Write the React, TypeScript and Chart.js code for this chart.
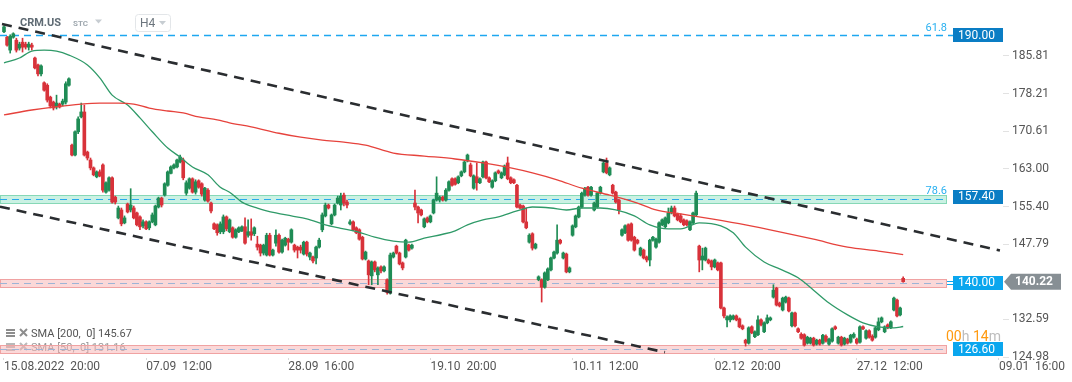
import React, { useEffect, useRef } from 'react';
import { Chart, registerables } from 'chart.js';

Chart.register(...registerables);

const FONT = 'Roboto, "Noto Sans", sans-serif';

// [open, high, low, close] per H4 candle
const ohlc: number[][] = [
  [190.7, 191.9, 190.5, 191.7], [189.6, 189.8, 187.8, 188.0], [187.0, 190.1, 186.4, 189.8], [189.6, 190.5, 189.4, 190.3],
  [189.0, 189.4, 186.6, 187.0], [187.4, 188.6, 187.0, 188.2], [188.6, 189.4, 186.6, 187.6], [188.2, 188.6, 187.2, 187.6],
  [187.6, 188.6, 187.0, 188.2], [188.0, 188.4, 187.0, 187.6], [185.4, 185.6, 183.2, 183.4], [184.0, 184.2, 181.8, 182.2],
  [182.2, 184.0, 181.8, 183.8], [180.4, 180.6, 178.7, 178.9], [179.9, 180.2, 176.5, 176.9], [177.5, 177.7, 175.3, 175.7],
  [176.5, 176.7, 174.9, 175.3], [175.5, 177.9, 175.1, 176.3], [176.1, 176.3, 175.3, 175.5], [176.1, 177.1, 175.7, 176.7],
  [176.5, 180.6, 176.1, 180.2], [179.9, 181.4, 179.7, 181.2], [167.8, 168.0, 165.6, 165.8], [165.8, 170.7, 165.6, 170.5],
  [170.5, 173.5, 170.1, 173.1], [173.5, 176.3, 173.3, 174.5], [174.5, 175.9, 165.6, 165.8], [166.4, 166.6, 164.8, 165.2],
  [164.8, 165.2, 162.8, 163.2], [163.2, 163.4, 161.6, 161.8], [161.4, 162.6, 161.2, 162.4], [162.4, 162.8, 161.4, 161.6],
  [163.8, 164.0, 158.3, 158.7], [158.3, 160.4, 158.1, 160.2], [158.7, 161.4, 158.5, 161.2], [161.2, 161.4, 156.1, 156.3],
  [157.3, 157.5, 155.9, 156.3], [153.1, 155.5, 152.9, 155.1], [154.7, 155.1, 151.5, 151.9], [152.1, 153.5, 151.9, 153.1],
  [155.9, 156.1, 154.1, 154.3], [154.7, 159.0, 154.3, 155.7], [155.1, 155.5, 152.9, 153.1], [154.1, 154.3, 151.5, 151.7],
  [153.3, 153.5, 150.7, 151.3], [151.5, 152.7, 151.1, 152.3], [152.3, 152.5, 150.7, 150.9], [151.1, 152.5, 150.7, 152.3],
  [152.3, 154.1, 152.1, 153.7], [151.7, 155.7, 151.5, 155.5], [155.3, 157.3, 155.1, 157.1], [157.1, 157.3, 155.3, 155.7],
  [157.7, 160.2, 157.5, 160.0], [159.7, 162.6, 159.5, 162.4], [162.1, 163.6, 162.0, 163.4], [163.2, 164.0, 163.0, 163.8],
  [163.4, 165.0, 163.2, 164.8], [164.4, 165.8, 164.2, 165.4], [164.8, 165.2, 160.8, 161.2], [158.1, 160.6, 157.7, 160.2],
  [159.1, 161.2, 158.9, 161.0], [161.0, 161.2, 158.1, 158.3], [158.3, 160.8, 157.9, 160.4], [160.6, 160.8, 159.1, 159.3],
  [160.0, 160.2, 157.5, 157.9], [156.7, 159.3, 156.5, 159.1], [158.7, 159.0, 156.3, 156.5], [156.1, 156.3, 154.1, 154.5],
  [151.9, 152.1, 150.7, 150.9], [151.7, 151.9, 149.6, 150.1], [150.3, 152.3, 149.9, 151.9], [150.3, 153.7, 149.9, 153.3],
  [153.3, 153.5, 150.5, 150.9], [150.3, 152.9, 150.1, 152.7], [151.1, 151.3, 149.0, 149.2], [149.2, 150.9, 149.0, 150.7],
  [150.3, 151.3, 150.1, 151.1], [150.5, 151.5, 150.3, 151.3], [151.3, 153.1, 147.8, 148.0], [149.6, 152.7, 149.2, 150.3],
  [150.3, 152.9, 148.6, 149.6], [149.9, 151.3, 149.5, 151.1], [147.8, 149.4, 146.6, 147.2], [147.6, 147.8, 145.4, 146.0],
  [146.0, 147.8, 145.6, 147.6], [145.6, 150.0, 145.4, 149.6], [149.6, 150.0, 145.4, 145.6], [145.6, 146.8, 145.4, 146.6],
  [148.0, 150.7, 147.4, 149.6], [149.6, 149.9, 146.0, 146.2], [146.2, 148.8, 146.0, 148.6], [147.6, 149.2, 147.4, 149.0],
  [148.8, 149.0, 146.6, 148.2], [148.2, 150.9, 148.0, 150.7], [147.6, 147.8, 146.2, 146.6], [147.2, 147.4, 145.0, 146.6],
  [147.2, 147.6, 146.0, 146.6], [145.8, 148.4, 145.6, 148.2], [148.2, 148.4, 145.4, 145.8], [145.2, 146.2, 144.6, 146.0],
  [145.2, 145.4, 144.0, 144.4], [145.0, 147.4, 143.8, 147.2], [147.2, 149.0, 147.0, 148.6], [150.7, 154.1, 150.3, 153.7],
  [153.5, 156.1, 153.3, 155.7], [155.7, 155.9, 154.9, 155.1], [151.9, 153.9, 151.7, 153.7], [153.7, 155.9, 153.5, 155.7],
  [156.1, 157.5, 155.9, 157.1], [155.7, 158.1, 154.7, 157.5], [157.7, 158.1, 155.5, 156.1], [156.3, 156.7, 155.1, 155.7],
  [151.9, 152.7, 151.7, 152.3], [152.3, 152.5, 150.5, 150.7], [151.1, 151.3, 149.9, 150.1], [150.7, 150.9, 148.6, 148.8],
  [149.2, 149.4, 144.6, 144.8], [144.8, 146.4, 144.6, 146.2], [144.4, 144.6, 139.6, 141.6], [141.4, 144.4, 139.6, 144.2],
  [144.2, 144.4, 142.2, 142.6], [141.6, 143.2, 139.6, 143.0], [143.2, 143.4, 142.0, 142.4], [142.4, 143.4, 142.2, 143.2],
  [140.6, 140.8, 137.7, 138.1], [137.9, 146.0, 137.7, 145.6], [145.2, 146.2, 145.0, 146.0], [147.4, 147.6, 145.8, 146.0],
  [146.0, 146.2, 143.6, 143.8], [144.0, 144.2, 142.6, 143.0], [145.2, 148.8, 145.0, 148.6], [147.6, 147.8, 146.4, 146.6],
  [147.0, 147.8, 146.8, 147.6], [156.1, 158.7, 154.7, 155.3], [155.3, 155.5, 152.1, 154.1], [154.7, 154.9, 153.5, 153.7],
  [151.3, 153.1, 151.1, 152.9], [153.1, 153.3, 152.1, 152.3], [152.3, 153.7, 152.1, 153.5], [154.1, 156.9, 153.9, 156.7],
  [156.7, 161.4, 156.5, 158.1], [156.7, 157.5, 156.3, 157.3], [157.3, 157.5, 156.5, 156.7], [156.7, 159.0, 156.5, 158.7],
  [158.7, 160.6, 158.5, 160.4], [161.0, 161.2, 159.5, 159.7], [161.0, 161.2, 159.7, 159.9], [160.2, 161.6, 160.0, 161.4],
  [161.6, 162.6, 161.4, 162.4], [162.4, 164.6, 162.2, 164.4], [164.6, 166.0, 164.4, 165.8], [163.8, 164.2, 161.4, 161.6],
  [159.1, 161.8, 158.9, 161.6], [161.4, 164.2, 158.7, 160.2], [160.2, 161.2, 160.0, 161.0], [161.4, 164.6, 161.2, 164.4],
  [164.4, 164.6, 161.0, 161.2], [161.2, 161.4, 160.2, 160.4], [159.3, 160.8, 159.1, 160.6], [160.6, 162.4, 160.4, 162.2],
  [162.6, 162.8, 162.0, 162.2], [161.2, 162.4, 161.0, 162.2], [161.8, 163.8, 161.6, 163.6], [164.2, 165.4, 160.8, 161.0],
  [161.2, 161.4, 160.0, 160.2], [160.8, 161.0, 160.0, 160.2], [159.7, 159.9, 155.1, 155.3], [155.7, 155.9, 154.9, 155.1],
  [155.5, 155.7, 152.1, 152.3], [152.3, 155.1, 150.9, 151.1], [148.2, 149.9, 148.0, 149.6], [149.9, 150.1, 146.6, 147.0],
  [147.0, 148.0, 146.8, 147.8], [140.6, 141.4, 140.4, 141.2], [140.6, 140.8, 136.1, 139.1],
  [139.1, 142.2, 138.9, 142.0], [140.6, 143.0, 140.4, 142.8], [142.6, 145.2, 142.4, 145.0], [145.0, 146.4, 144.8, 146.2],
  [146.0, 151.7, 145.8, 148.6], [148.6, 148.8, 147.8, 148.0], [145.0, 146.2, 144.8, 146.0], [145.8, 146.0, 142.0, 142.2],
  [142.2, 143.2, 142.0, 143.0], [149.6, 151.7, 149.4, 151.5], [151.3, 153.7, 151.1, 153.5], [153.3, 155.5, 153.1, 155.3],
  [155.3, 158.3, 155.1, 158.1], [157.7, 159.3, 157.5, 159.1], [159.3, 159.5, 157.5, 157.7], [157.7, 159.5, 157.5, 159.3],
  [154.7, 156.3, 154.5, 156.1], [155.3, 158.3, 155.1, 158.1], [158.1, 159.5, 157.9, 159.3], [162.4, 164.4, 162.2, 164.2],
  [164.2, 165.2, 162.0, 162.2], [161.8, 163.4, 161.6, 163.2], [159.7, 159.9, 157.9, 158.1], [158.3, 158.5, 156.1, 156.3],
  [156.7, 156.9, 153.9, 154.7], [149.6, 150.9, 149.4, 150.7], [150.1, 151.7, 149.9, 151.5], [151.7, 151.9, 148.4, 148.6],
  [151.9, 152.1, 148.4, 148.6], [149.2, 149.4, 146.4, 146.6], [148.6, 148.8, 147.8, 148.0], [145.6, 147.2, 145.4, 147.0],
  [146.6, 146.8, 144.8, 145.0], [145.2, 145.4, 144.2, 144.6], [144.6, 148.8, 143.4, 148.6],
  [148.6, 149.4, 148.4, 149.2], [147.2, 149.0, 147.0, 148.8], [148.2, 152.3, 148.0, 152.1], [151.7, 152.9, 151.5, 152.7],
  [151.3, 153.3, 151.1, 153.1], [152.1, 155.1, 151.9, 154.1], [154.1, 155.5, 153.9, 155.1], [155.1, 155.5, 153.3, 153.5],
  [153.9, 154.1, 152.5, 152.7], [153.5, 153.9, 152.1, 152.3], [152.7, 152.9, 151.5, 151.7], [152.5, 152.7, 151.5, 151.7],
  [150.7, 152.5, 150.5, 152.3], [152.1, 154.3, 151.9, 154.1], [153.7, 158.5, 153.5, 158.1], [147.4, 147.6, 142.2, 144.6],
  [144.6, 147.0, 142.6, 145.4], [144.6, 147.2, 144.4, 147.0], [144.6, 144.8, 143.8, 144.0], [144.4, 144.6, 142.6, 143.2],
  [143.2, 144.8, 143.0, 144.6], [144.0, 144.2, 142.4, 142.6], [144.0, 144.2, 134.7, 134.9], [134.9, 135.1, 132.9, 133.3],
  [132.5, 133.3, 131.1, 133.1], [132.5, 133.5, 132.1, 133.3], [132.7, 133.5, 132.5, 133.3], [133.3, 133.5, 132.3, 132.5],
  [132.7, 132.9, 130.9, 131.1], [131.3, 131.5, 130.5, 130.7], [128.4, 128.6, 127.2, 127.8], [127.8, 131.1, 127.6, 130.9],
  [131.1, 131.3, 129.7, 129.9], [129.1, 130.3, 128.9, 130.1], [129.5, 133.3, 129.3, 132.5], [132.5, 132.7, 131.3, 131.5],
  [130.1, 132.1, 129.9, 131.9], [131.9, 133.5, 131.7, 132.9], [132.5, 133.1, 132.3, 132.9], [137.1, 139.6, 136.9, 138.5],
  [138.9, 139.1, 135.3, 135.5], [135.9, 136.1, 135.1, 135.3], [134.5, 137.1, 134.3, 136.9], [136.1, 137.3, 135.9, 137.1],
  [136.9, 137.1, 134.1, 134.3], [131.3, 134.1, 131.1, 133.9], [133.9, 134.1, 131.1, 131.3], [130.7, 130.9, 129.9, 130.1],
  [129.6, 129.9, 128.6, 128.8], [129.5, 129.7, 127.2, 127.4], [127.8, 129.2, 127.6, 129.0], [127.8, 129.0, 127.6, 128.8],
  [128.8, 129.0, 127.2, 127.4], [127.6, 128.6, 127.4, 128.4], [128.4, 128.6, 127.4, 127.6],
  [127.8, 129.6, 127.6, 129.4], [129.2, 129.5, 128.0, 128.2], [127.6, 128.8, 127.4, 128.6],
  [128.2, 130.9, 128.0, 130.7], [131.1, 131.3, 130.5, 130.7], [127.8, 129.2, 127.6, 129.0], [129.0, 129.2, 127.2, 127.4],
  [127.6, 129.0, 127.4, 128.8], [128.6, 128.8, 127.6, 127.8], [128.0, 129.6, 127.8, 129.4], [129.0, 129.9, 128.8, 129.6],
  [128.6, 128.8, 127.6, 127.8], [128.0, 131.3, 127.8, 131.1], [131.1, 131.3, 130.5, 130.7], [128.8, 130.5, 128.6, 130.3],
  [130.3, 130.5, 128.8, 129.0], [129.2, 129.5, 128.2, 128.4], [129.0, 131.1, 128.8, 130.9], [130.5, 132.9, 130.3, 132.1],
  [132.1, 133.1, 131.9, 132.9], [130.1, 131.3, 129.9, 131.1], [131.5, 131.7, 130.7, 130.9], [130.9, 132.3, 130.7, 132.1],
  [134.5, 137.1, 134.3, 136.9], [136.5, 136.7, 133.1, 133.3], [133.5, 135.1, 133.3, 134.9], [140.9, 141.2, 140.1, 140.22],
];

// Moving averages (candle index, value)
const sma200Idx = [0, 9, 16, 25, 31, 37, 42, 47, 53, 58, 63, 69, 73, 80, 89, 96, 103, 110, 117, 126, 136, 146, 155, 164, 171, 179, 187, 196, 205, 211, 219, 229, 240, 251, 262, 273, 283, 291];
const sma200Val = [173.9, 174.9, 175.5, 176.1, 176.3, 176.3, 176.1, 175.3, 174.7, 174.3, 173.5, 172.9, 172.3, 171.5, 170.2, 169.4, 168.8, 168.4, 167.8, 166.2, 165.6, 165.0, 164.2, 163.2, 162.2, 160.8, 159.1, 157.7, 156.1, 154.7, 153.9, 152.9, 151.7, 150.3, 148.8, 147.2, 146.4, 145.67];
const sma50Idx = [0, 5, 9, 13, 17, 21, 27, 31, 35, 40, 44, 48, 53, 57, 61, 66, 70, 73, 77, 82, 88, 93, 98, 104, 109, 115, 120, 126, 131, 136, 142, 146, 150, 155, 160, 166, 171, 177, 182, 187, 193, 198, 204, 209, 215, 219, 225, 232, 236, 240, 246, 251, 257, 262, 267, 273, 278, 283, 288, 291];
const sma50Val = [184.4, 185.4, 186.8, 187.0, 186.8, 186.0, 184.0, 181.4, 177.9, 175.9, 173.3, 170.5, 167.2, 165.4, 163.4, 161.8, 159.3, 158.3, 156.3, 155.1, 154.1, 153.5, 152.9, 151.7, 151.0, 150.2, 149.2, 148.4, 148.2, 149.0, 149.8, 150.5, 151.7, 152.7, 153.3, 154.5, 155.3, 155.1, 154.7, 155.1, 155.1, 154.7, 153.5, 151.7, 150.9, 150.9, 152.1, 151.5, 150.1, 147.2, 144.2, 142.8, 141.0, 138.5, 135.9, 133.5, 131.9, 131.1, 130.9, 131.16];

// Trend channel lines (two end points each)
const trendUpperIdx = [-0.65, 322.3];
const trendUpperVal = [192.27, 146.5];
const trendLowerIdx = [-1.3, 213.9];
const trendLowerVal = [155.37, 125.96];

// Axis ticks
const xTickIdx = [0, 46, 92, 138, 184, 230, 276, 322];
const xTickLabels = ['15.08.2022  20:00', '07.09  12:00', '28.09  16:00', '19.10  20:00', '10.11  12:00', '02.12  20:00', '27.12  12:00', '09.01  16:00'];
const yTicks = [124.98, 132.59, 147.79, 155.4, 163.0, 170.61, 178.21, 185.81];

// Horizontal levels
const fibValue = 190.0;
const fibText = '61.8';
const zoneLabels = [157.4, 140.0, 126.6];
const zoneTops = [157.75, 140.7, 127.4];
const zoneBottoms = [156.05, 139.1, 125.75];
const zoneDash = [156.9, 139.9, 126.56];
const zoneFib = ['78.6', '', ''];
const currentPrice = 140.22;
const legendTexts = ['SMA [200,  0] 145.67', 'SMA [50,  0] 131.16'];

const GREEN = '#1f8c55';
const RED = '#d8323a';

const overlay = {
  id: 'overlay',
  beforeDatasetsDraw(chart: any) {
    const { ctx, chartArea: ca, scales } = chart;
    const ys = scales.y;
    ctx.save();
    // legend (under the zones)
    const rows = [335, 349];
    rows.forEach((ry, k) => {
      const col = k === 0 ? '#8d8d8d' : '#b9b9b9';
      ctx.fillStyle = col;
      ctx.fillRect(6, ry - 6, 9, 2);
      ctx.fillRect(6, ry - 3, 9, 2);
      ctx.fillRect(6, ry, 9, 2);
      ctx.strokeStyle = col;
      ctx.lineWidth = 2;
      ctx.beginPath();
      ctx.moveTo(20, ry - 6);
      ctx.lineTo(27, ry + 1);
      ctx.moveTo(27, ry - 6);
      ctx.lineTo(20, ry + 1);
      ctx.stroke();
      ctx.font = `11px ${FONT}`;
      ctx.textBaseline = 'middle';
      ctx.fillStyle = k === 0 ? '#555' : '#9a9a9a';
      ctx.fillText(legendTexts[k], 31, ry - 1);
    });

    const zoneRight = ca.right - 56;
    zoneTops.forEach((tv, k) => {
      const t = Math.round(ys.getPixelForValue(tv));
      const b = Math.round(ys.getPixelForValue(zoneBottoms[k]));
      const green = k === 0;
      ctx.fillStyle = green ? 'rgba(150, 228, 200, 0.5)' : 'rgba(248, 178, 178, 0.5)';
      ctx.fillRect(ca.left, t, zoneRight - ca.left, b - t);
      ctx.strokeStyle = green ? '#86d8b6' : '#f0a2a2';
      ctx.lineWidth = 1;
      ctx.strokeRect(ca.left + 0.5, t + 0.5, zoneRight - ca.left - 1, b - t);
      const d = Math.round(ys.getPixelForValue(zoneDash[k])) + 0.5;
      ctx.setLineDash([7, 5]);
      ctx.strokeStyle = green ? '#29a9ec' : '#9db4d6';
      ctx.lineWidth = 1.2;
      ctx.beginPath();
      ctx.moveTo(ca.left, d);
      ctx.lineTo(zoneRight, d);
      ctx.stroke();
      ctx.setLineDash([]);
    });

    // 61.8 fib line
    const fy = Math.round(ys.getPixelForValue(fibValue)) + 0.5;
    ctx.setLineDash([7, 5]);
    ctx.strokeStyle = '#1ea7f0';
    ctx.lineWidth = 1.3;
    ctx.beginPath();
    ctx.moveTo(ca.left, fy);
    ctx.lineTo(ca.right - 50, fy);
    ctx.stroke();
    ctx.setLineDash([]);
    ctx.restore();
  },
  afterDraw(chart: any) {
    const { ctx, chartArea: ca, scales } = chart;
    const ys = scales.y;
    ctx.save();
    const boxLeft = ca.right - 50;
    const box = (v: number, color: string) => {
      const yc = ys.getPixelForValue(v);
      ctx.fillStyle = color;
      ctx.fillRect(boxLeft, Math.round(yc - 7), 50, 14);
      ctx.fillStyle = '#fff';
      ctx.font = `12px ${FONT}`;
      ctx.textBaseline = 'middle';
      ctx.textAlign = 'left';
      ctx.fillText(v.toFixed(2), boxLeft + 5, yc + 0.5);
    };
    // fib labels
    ctx.font = `11px ${FONT}`;
    ctx.fillStyle = '#29b0f0';
    ctx.textAlign = 'right';
    ctx.textBaseline = 'alphabetic';
    ctx.fillText(fibText, ca.right - 56, ys.getPixelForValue(fibValue) - 4);
    zoneFib.forEach((t, k) => {
      if (t) ctx.fillText(t, ca.right - 56, ys.getPixelForValue(zoneTops[k]) - 1);
    });
    box(fibValue, '#0a7dc4');
    zoneLabels.forEach((v, k) => box(v, k === 0 ? '#0a7dc4' : '#0aa6ee'));
    // small connector on the 140 level
    const cy = ys.getPixelForValue(zoneLabels[1]);
    ctx.fillStyle = '#0aa6ee';
    ctx.fillRect(boxLeft - 6, Math.round(cy) - 2, 6, 1);
    ctx.fillRect(boxLeft - 6, Math.round(cy) + 1, 6, 1);

    // current price tag
    const py = ys.getPixelForValue(currentPrice);
    const px = ca.right + 1;
    ctx.fillStyle = '#878f94';
    ctx.beginPath();
    ctx.moveTo(px, py);
    ctx.lineTo(px + 7, py - 8);
    ctx.lineTo(px + 57, py - 8);
    ctx.lineTo(px + 57, py + 8);
    ctx.lineTo(px + 7, py + 8);
    ctx.closePath();
    ctx.fill();
    ctx.fillStyle = '#fff';
    ctx.font = `bold 12px ${FONT}`;
    ctx.textAlign = 'left';
    ctx.textBaseline = 'middle';
    ctx.fillText(currentPrice.toFixed(2), px + 11, py + 0.5);

    // candle timer
    const ty = ys.getPixelForValue(zoneTops[2]) - 4;
    let tx = ca.right - 57;
    ctx.font = `14px ${FONT}`;
    ctx.textBaseline = 'alphabetic';
    [['00', '#ff9a10'], ['h', '#bdbdbd'], [' 14', '#ff9a10'], ['m', '#bdbdbd']].forEach(([s, c]) => {
      ctx.fillStyle = c;
      ctx.fillText(s, tx, ty);
      tx += ctx.measureText(s).width;
    });

    // header
    ctx.textBaseline = 'middle';
    ctx.font = `bold 11px ${FONT}`;
    ctx.fillStyle = '#5f6b74';
    ctx.fillText('CRM.US', 20, 23);
    ctx.font = `bold 8px ${FONT}`;
    ctx.fillStyle = '#9ea7ae';
    ctx.fillText('STC', 73, 24);
    ctx.fillStyle = '#c7cdd2';
    ctx.beginPath();
    ctx.moveTo(95, 19.5);
    ctx.lineTo(102, 19.5);
    ctx.lineTo(98.5, 23.5);
    ctx.closePath();
    ctx.fill();
    ctx.strokeStyle = '#e3e6e9';
    ctx.lineWidth = 1;
    ctx.beginPath();
    (ctx as any).roundRect(135.5, 14.5, 35, 17, 3);
    ctx.stroke();
    ctx.font = `12px ${FONT}`;
    ctx.fillStyle = '#6c757d';
    ctx.fillText('H4', 140, 23.5);
    ctx.fillStyle = '#c7cdd2';
    ctx.beginPath();
    ctx.moveTo(159, 21);
    ctx.lineTo(166, 21);
    ctx.lineTo(162.5, 25);
    ctx.closePath();
    ctx.fill();
    ctx.restore();
  },
};

export default function App() {
  const ref = useRef<HTMLCanvasElement>(null);
  useEffect(() => {
    const canvas = ref.current!;
    const up = ohlc.map((c) => c[3] >= c[0]);
    const colors = up.map((u) => (u ? GREEN : RED));
    const chart = new Chart(canvas, {
      type: 'bar',
      data: {
        datasets: [
          {
            type: 'line',
            data: trendUpperIdx.map((x, i) => ({ x, y: trendUpperVal[i] })),
            borderColor: '#2a2d30',
            borderWidth: 2.6,
            borderDash: [10, 7],
            pointRadius: 0,
            order: 0,
          } as any,
          {
            type: 'line',
            data: trendLowerIdx.map((x, i) => ({ x, y: trendLowerVal[i] })),
            borderColor: '#2a2d30',
            borderWidth: 2.6,
            borderDash: [10, 7],
            pointRadius: 0,
            order: 0,
          } as any,
          {
            type: 'line',
            data: sma200Idx.map((x, i) => ({ x, y: sma200Val[i] })),
            borderColor: '#e6423c',
            borderWidth: 1.3,
            pointRadius: 0,
            cubicInterpolationMode: 'monotone',
            order: 1,
          } as any,
          {
            type: 'line',
            data: sma50Idx.map((x, i) => ({ x, y: sma50Val[i] })),
            borderColor: '#2f9a68',
            borderWidth: 1.3,
            pointRadius: 0,
            cubicInterpolationMode: 'monotone',
            order: 1,
          } as any,
          {
            type: 'bar',
            data: ohlc.map((c, i) => ({ x: i, y: [Math.min(c[0], c[3]), Math.max(c[0], c[3])] })),
            backgroundColor: colors,
            borderWidth: 0,
            barThickness: 3,
            minBarLength: 1,
            grouped: false,
            order: 2,
          } as any,
          {
            type: 'bar',
            data: ohlc.map((c, i) => ({ x: i, y: [c[2], c[1]] })),
            backgroundColor: colors,
            borderWidth: 0,
            barThickness: 1,
            grouped: false,
            order: 3,
          } as any,
        ],
      },
      options: {
        responsive: false,
        animation: false,
        events: [],
        layout: { padding: 0 },
        plugins: { legend: { display: false }, tooltip: { enabled: false } },
        scales: {
          x: {
            type: 'linear',
            min: -1.294,
            max: 323.3,
            offset: false,
            afterFit: (s: any) => {
              s.height = 24;
              s.paddingLeft = 0;
              s.paddingRight = 0;
            },
            afterBuildTicks: (s: any) => {
              s.ticks = xTickIdx.map((v) => ({ value: v }));
            },
            ticks: {
              autoSkip: false,
              maxRotation: 0,
              align: 'start',
              padding: 0,
              color: '#555',
              font: { family: FONT, size: 12 },
              callback: (_v: any, i: number) => xTickLabels[i],
            },
            grid: { offset: false, drawOnChartArea: false, tickLength: 2, color: '#d8d8d8' },
            border: { display: false },
          },
          y: {
            type: 'linear',
            position: 'right',
            min: 124.8,
            max: 197.12,
            afterFit: (s: any) => {
              s.width = 69;
              s.paddingTop = 0;
              s.paddingBottom = 0;
            },
            afterBuildTicks: (s: any) => {
              s.ticks = yTicks.map((v) => ({ value: v }));
            },
            ticks: {
              padding: 3,
              color: '#555',
              font: { family: FONT, size: 12 },
              callback: (v: any) => Number(v).toFixed(2),
            },
            grid: { drawOnChartArea: false, tickLength: 6, color: '#e2e2e2' },
            border: { display: false },
          },
        },
      } as any,
      plugins: [overlay],
    });
    return () => chart.destroy();
  }, []);
  return (
    <div style={{ position: 'absolute', left: 0, top: 0, width: 1072, height: 382, background: '#fff' }}>
      <canvas ref={ref} width={1072} height={382} style={{ width: 1072, height: 382, display: 'block' }} />
    </div>
  );
}
